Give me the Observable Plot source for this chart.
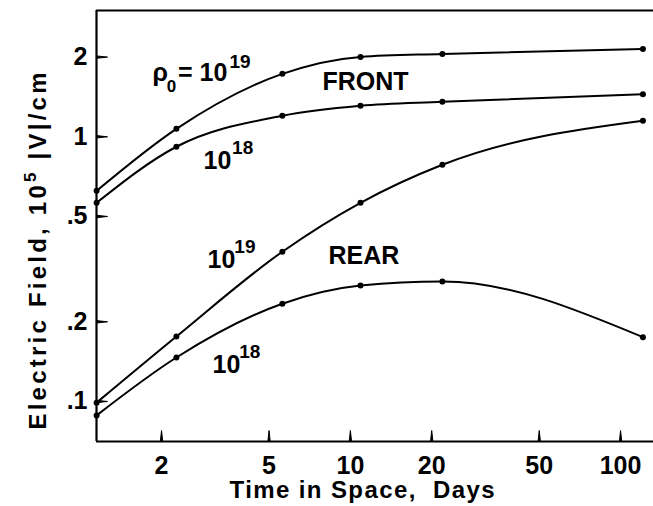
<!DOCTYPE html>
<html><head><meta charset="utf-8">
<script src="https://cdn.jsdelivr.net/npm/d3@7"></script>
<script src="https://cdn.jsdelivr.net/npm/@observablehq/plot@0.6"></script>
<style>body{margin:0;background:#fff}</style>
</head><body><div id="chart"></div>
<script>
// Time in space (days) at each computed point
const days = [1.15, 2.27, 5.6, 10.9, 21.9, 121];
// Electric field, 10^5 |V|/cm
const front19 = [0.625, 1.072, 1.729, 2.004, 2.057, 2.148];
const front18 = [0.563, 0.917, 1.20, 1.309, 1.355, 1.449];
const rear19 = [0.099, 0.176, 0.368, 0.563, 0.784, 1.149];
const rear18 = [0.0886, 0.1466, 0.234, 0.274, 0.284, 0.175];
const seriesNames = ["front19", "front18", "rear19", "rear18"];
const xTicks = [2, 5, 10, 20, 50, 100];
const xTickLabels = ["2", "5", "10", "20", "50", "100"];
const yTicks = [0.1, 0.2, 0.5, 1, 2];
const yTickLabels = [".1", ".2", ".5", "1", "2"];
const xDomain = [1.149, 132.4];
const yDomain = [0.0706, 3.0];
// annotation texts (anchored in data coordinates)
const labelText = ["ρ", "0", "= 10", "19", "FRONT", "10", "18", "10", "19", "REAR", "10", "18"];
const labelX = [1.852, 2.09, 2.30, 3.57, 7.88, 2.862, 3.65, 2.961, 3.72, 8.30, 3.088, 3.88];
const labelY = [1.627, 1.48, 1.627, 1.821, 1.504, 0.757, 0.863, 0.3204, 0.365, 0.3317, 0.1286, 0.1466];
const labelSize = [25, 17, 25, 19, 25, 25, 19, 25, 19, 25, 25, 19];

const seriesValues = {front19, front18, rear19, rear18};
const rows = seriesNames.flatMap(s => days.map((d, i) => ({series: s, x: d, y: seriesValues[s][i]})));
const labels = labelText.map((t, i) => ({text: t, x: labelX[i], y: labelY[i], size: labelSize[i]}));
const FONT = "'Liberation Sans', Arial, Helvetica, sans-serif";

const W = 653, H = 506, ML = 96, MR = 0, MT = 10, MB = 65;
const TICK = 11; // inward tick length, px

const chart = Plot.plot({
  width: W,
  height: H,
  marginLeft: ML,
  marginRight: MR,
  marginTop: MT,
  marginBottom: MB,
  style: {fontFamily: FONT, fontSize: "25px", fontWeight: "bold", background: "white", color: "black"},
  x: {type: "log", domain: xDomain, label: null, axis: null},
  y: {type: "log", domain: yDomain, label: null, axis: null},
  marks: [
    Plot.ruleY([yDomain[0]], {stroke: "black", strokeWidth: 2.2}),
    Plot.ruleY([yDomain[1]], {stroke: "black", strokeWidth: 2.2}),
    Plot.ruleX([xDomain[0]], {stroke: "black", strokeWidth: 2.2}),
    Plot.vector(xTicks, {x: d => d, frameAnchor: "bottom", length: TICK, rotate: 0, anchor: "start", shape: "spike", r: 1.2, fill: "black", stroke: "black", strokeWidth: 1}),
    Plot.vector(yTicks, {y: d => d, frameAnchor: "left", length: TICK, rotate: 90, anchor: "start", shape: "spike", r: 1.2, fill: "black", stroke: "black", strokeWidth: 1}),
    Plot.text(xTicks, {x: d => d, text: (d, i) => xTickLabels[i], frameAnchor: "bottom", lineAnchor: "bottom", dy: 32, fontSize: 25, fontWeight: "bold", fill: "black", fontFamily: FONT}),
    Plot.text(yTicks, {y: d => d, text: (d, i) => yTickLabels[i], frameAnchor: "left", textAnchor: "end", dx: -9, fontSize: 25, fontWeight: "bold", fill: "black", fontFamily: FONT}),
    Plot.line(rows, {x: "x", y: "y", z: "series", stroke: "black", strokeWidth: 2, curve: "monotone-x"}),
    Plot.dot(rows, {x: "x", y: "y", r: 3, fill: "black", stroke: "none"}),
    Plot.text(labels, {x: "x", y: "y", text: "text", fontSize: "size", fontWeight: "bold", fill: "black", textAnchor: "start", lineAnchor: "bottom", fontFamily: FONT})
  ]
});
document.getElementById("chart").appendChild(chart);

const svg = d3.select(chart);
const yt = svg.append("text")
  .attr("transform", "translate(46,251) rotate(-90)")
  .attr("text-anchor", "middle")
  .attr("font-family", FONT).attr("font-weight", "bold").attr("font-size", 24)
  .attr("fill", "black")
  .attr("textLength", 357).attr("lengthAdjust", "spacing");
yt.append("tspan").text("Electric Field, 10");
yt.append("tspan").attr("dy", -10).attr("font-size", 17).text("5");
yt.append("tspan").attr("dy", 10).text(" |V|/cm");

svg.append("text")
  .attr("x", 362).attr("y", 498)
  .attr("text-anchor", "middle")
  .attr("font-family", FONT).attr("font-weight", "bold").attr("font-size", 24)
  .attr("fill", "black")
  .attr("textLength", 265).attr("lengthAdjust", "spacing")
  .attr("xml:space", "preserve")
  .text("Time in Space,  Days");
</script></body></html>
